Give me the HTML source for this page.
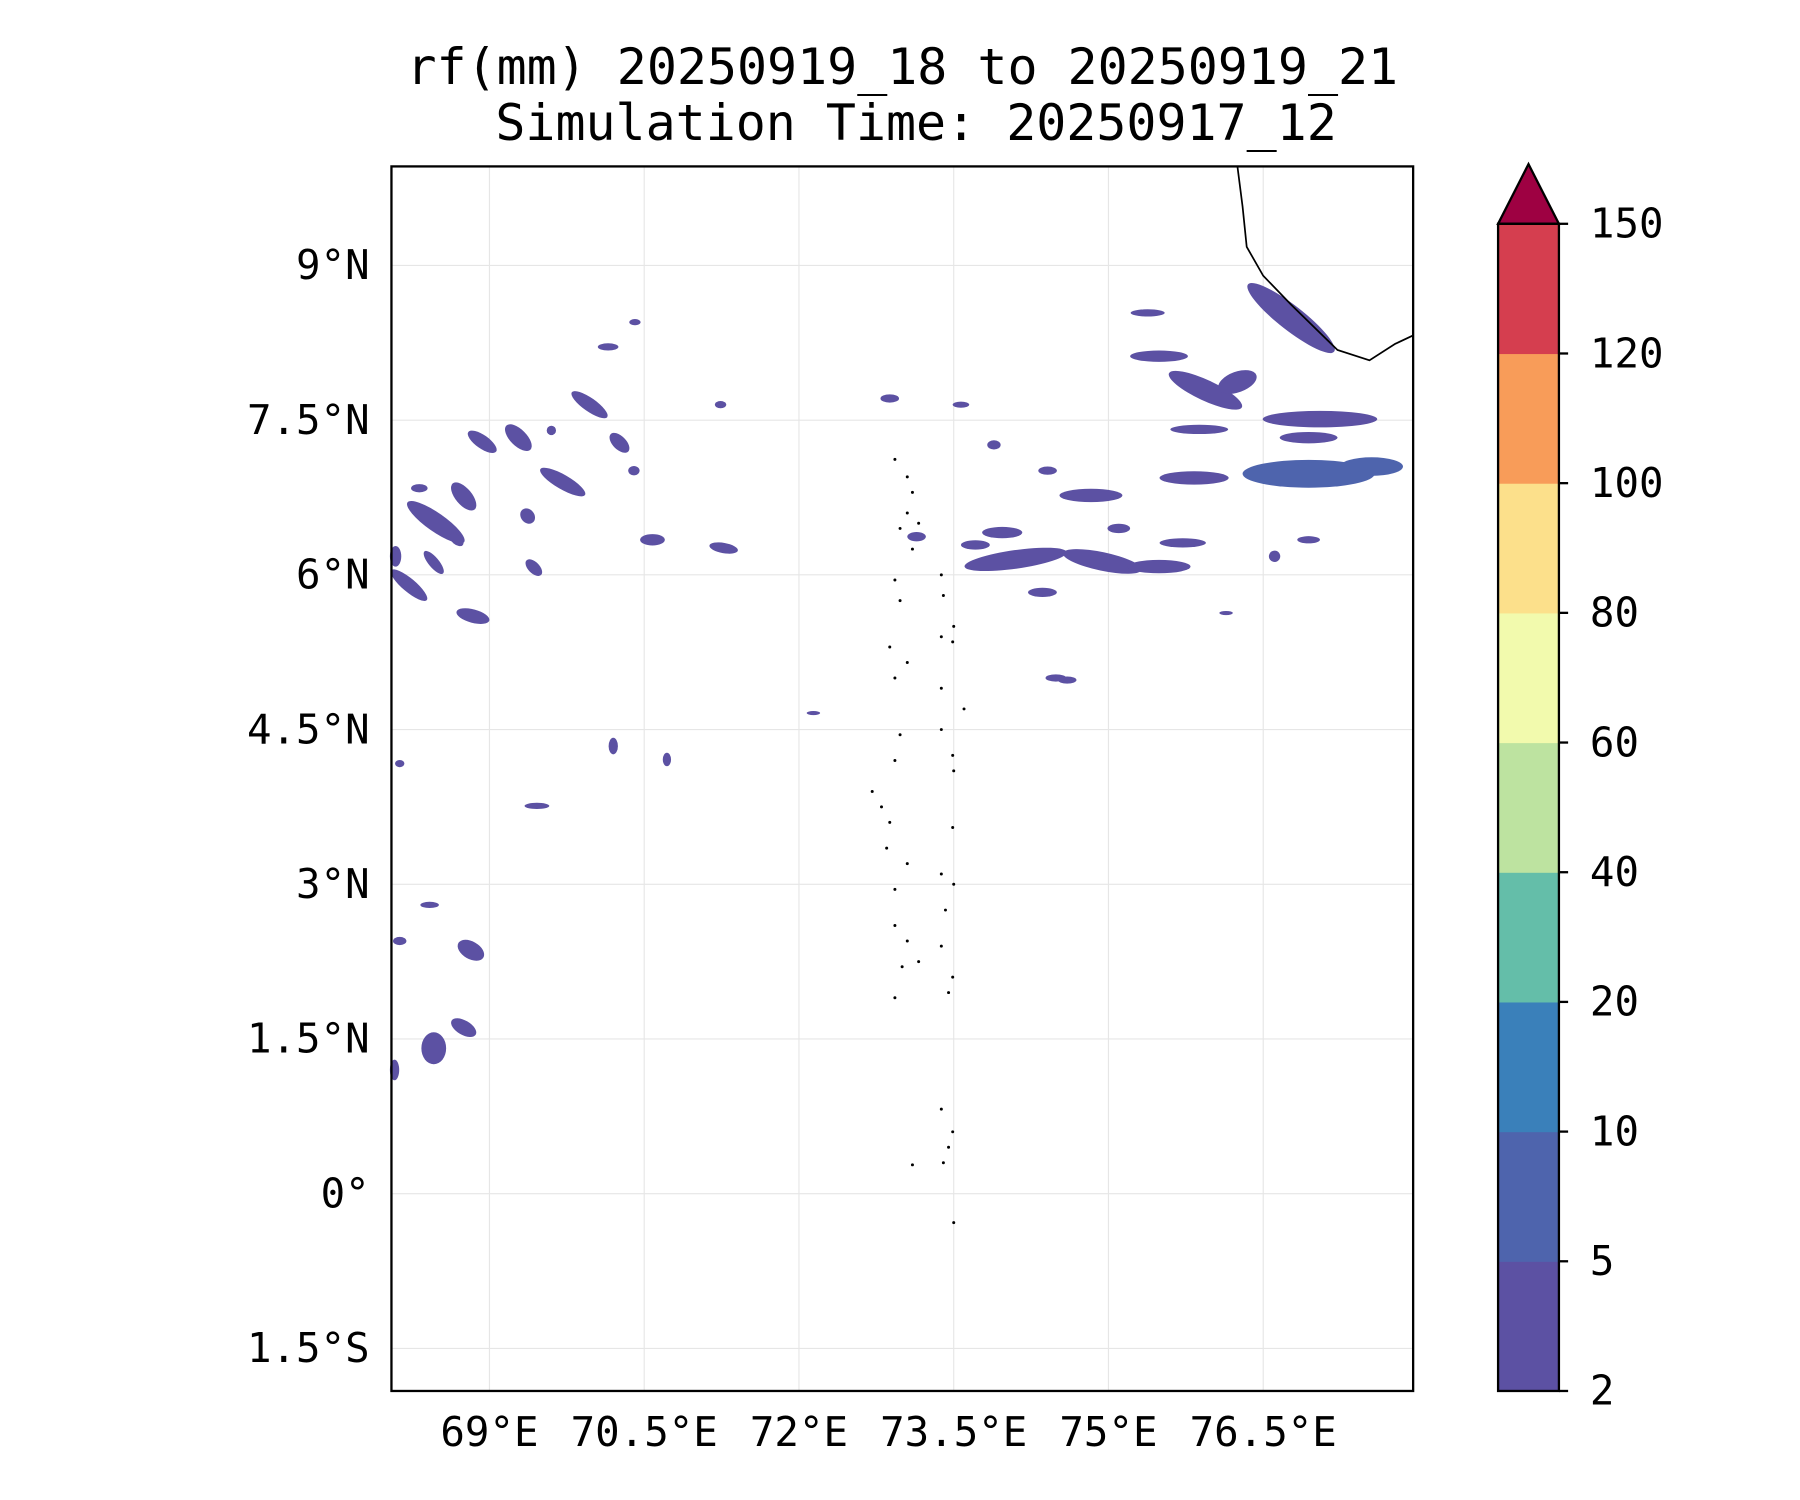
<!DOCTYPE html>
<html><head><meta charset="utf-8"><style>
html,body{margin:0;padding:0;background:#fff}
svg{display:block}
text{font-family:"DejaVu Sans Mono","Liberation Mono",monospace;fill:#000}
</style></head><body>
<svg id="chart" width="1800" height="1500" viewBox="0 0 1568 1307" preserveAspectRatio="none" xmlns="http://www.w3.org/2000/svg">
<text x="786" y="73" font-size="43.5" text-anchor="middle">rf(mm) 20250919_18 to 20250919_21</text>
<text x="798" y="122" font-size="43.5" text-anchor="middle">Simulation Time: 20250917_12</text>
<g id="grid"></g>
<g id="rain"></g>
<g id="coast"></g>
<rect x="341" y="145" width="890" height="1067" fill="none" stroke="#000" stroke-width="2"/>
<g id="xt"></g>
<g id="yt"></g>
<g id="cbar"></g>
</svg>
<script>
const xTicks=[69,70.5,72,73.5,75,76.5];
const xTickLabels=["69°E","70.5°E","72°E","73.5°E","75°E","76.5°E"];
const yTicks=[9,7.5,6,4.5,3,1.5,0,-1.5];
const yTickLabels=["9°N","7.5°N","6°N","4.5°N","3°N","1.5°N","0°","1.5°S"];
const levels=[2,5,10,20,40,60,80,100,120,150];
const levelColors=["#5c51a3","#4e64ad","#3a80ba","#64bea9","#bde3a0","#f2faad","#fce08b","#f89c59","#d53e4f"];
const extendColor="#9e0142";
const blobLon=[76.77,75.38,75.49,75.94,76.25,77.05,76.94,75.88,76.94,77.55,75.83,74.83,74.1,74.94,75.49,73.97,73.71,75.72,75.1,74.36,76.61,76.94,74.49,73.89,74.41,68.48,68.75,68.22,68.46,68.84,68.93,69.28,69.71,69.97,70.26,69.43,69.37,70.58,71.27,68.09,68.32,68.68,70.15,69.6,70.4,68.82,68.46,68.75,68.42,68.13,69.46,70.2,70.72,68.08,68.13,72.88,73.57,73.14,72.14,71.24,70.41,76.14,74.6];
const blobLat=[8.49,8.54,8.12,7.79,7.87,7.51,7.33,7.41,6.98,7.05,6.94,6.77,6.15,6.13,6.08,6.41,6.29,6.31,6.45,5.83,6.18,6.34,5.0,7.26,7.01,6.51,6.76,5.9,6.12,5.6,7.29,7.33,6.9,7.65,7.28,6.07,6.57,6.34,6.26,6.18,6.84,6.34,8.21,7.4,7.01,2.36,1.41,1.61,2.8,2.45,3.76,4.34,4.21,1.2,4.17,7.71,7.65,6.37,4.66,7.65,8.45,5.63,4.98];
const blobW=[1.06,.33,.56,.78,.39,1.11,.56,.56,1.28,.61,.67,.61,1.0,.78,.61,.39,.28,.45,.22,.28,.11,.22,.2,.13,.18,.67,.33,.45,.28,.33,.33,.33,.5,.42,.24,.2,.16,.24,.28,.11,.16,.16,.2,.09,.11,.28,.24,.27,.18,.13,.24,.09,.08,.09,.09,.18,.16,.18,.13,.11,.11,.13,.18];
const blobH=[.24,.07,.11,.2,.2,.16,.11,.09,.27,.18,.13,.13,.18,.18,.13,.11,.09,.09,.09,.09,.11,.07,.07,.09,.08,.18,.16,.13,.1,.13,.13,.16,.14,.13,.13,.11,.13,.11,.1,.2,.08,.09,.07,.09,.09,.17,.31,.14,.06,.08,.06,.16,.13,.2,.07,.08,.06,.09,.04,.07,.06,.04,.07];
const blobAng=[38,0,0,25,-20,0,0,0,0,0,0,0,-8,12,0,0,0,0,0,0,-30,0,0,0,0,35,50,40,50,15,35,45,30,35,45,45,50,0,10,0,0,40,0,0,0,30,0,30,0,0,0,0,0,0,0,0,0,0,0,0,0,0,0];
const blobBand=[0,0,0,0,0,0,0,0,1,1,0,0,0,0,0,0,0,0,0,0,0,0,0,0,0,0,0,0,0,0,0,0,0,0,0,0,0,0,0,0,0,0,0,0,0,0,0,0,0,0,0,0,0,0,0,0,0,0,0,0,0,0,0];
const coastLon=[76.25,76.3,76.34,76.5,76.77,77.22,77.53,77.78,77.95];
const coastLat=[9.96,9.57,9.18,8.9,8.62,8.18,8.08,8.24,8.32];
const islandLon=[72.93,73.05,73.1,73.05,72.98,73.16,73.1,73.38,73.4,72.93,72.98,73.38,73.49,73.5,72.88,73.05,72.93,73.38,73.6,72.98,73.38,73.49,72.93,73.5,72.71,72.8,72.88,73.49,72.85,73.05,73.38,73.5,72.93,73.42,72.93,73.05,73.38,73.49,73.45,72.93,73.0,73.16,73.38,73.49,73.45,73.4,73.1,73.5];
const islandLat=[7.12,6.95,6.8,6.6,6.45,6.5,6.25,6.0,5.8,5.95,5.75,5.4,5.35,5.5,5.3,5.15,5.0,4.9,4.7,4.45,4.5,4.25,4.2,4.1,3.9,3.75,3.6,3.55,3.35,3.2,3.1,3.0,2.95,2.75,2.6,2.45,2.4,2.1,1.95,1.9,2.2,2.25,0.82,0.6,0.45,0.3,0.28,-0.28];
const X=lon=>341+(lon-68.05)*89.87;
const Y=lat=>145+(9.96-lat)*89.87;
const NS="http://www.w3.org/2000/svg";
function mk(tag,parent){const e=document.createElementNS(NS,tag);parent.appendChild(e);return e;}
const grid=document.getElementById('grid');
xTicks.forEach(v=>{const l=mk('line',grid);


l.setAttribute('x1',X(v));l.setAttribute('x2',X(v));l.setAttribute('y1',145);l.setAttribute('y2',1212);l.setAttribute('stroke','#e6e6e6');l.setAttribute('stroke-width','1');});
yTicks.forEach(v=>{const l=mk('line',grid);


l.setAttribute('y1',Y(v));l.setAttribute('y2',Y(v));l.setAttribute('x1',341);l.setAttribute('x2',1231);l.setAttribute('stroke','#e6e6e6');l.setAttribute('stroke-width','1');});
const rain=document.getElementById('rain');
blobLon.forEach((lo,i)=>{const e=mk('ellipse',rain);


const cx=X(lo),cy=Y(blobLat[i]);
e.setAttribute('cx',cx);e.setAttribute('cy',cy);e.setAttribute('rx',blobW[i]*89.87/2);e.setAttribute('ry',blobH[i]*89.87/2);
e.setAttribute('transform',`rotate(${blobAng[i]} ${cx} ${cy})`);e.setAttribute('fill',levelColors[blobBand[i]]);});
const coast=document.getElementById('coast');
const p=mk('polyline',coast);


p.setAttribute('points',coastLon.map((lo,i)=>X(lo)+','+Y(coastLat[i])).join(' '));p.setAttribute('fill','none');p.setAttribute('stroke','#000');p.setAttribute('stroke-width','1.5');
islandLon.forEach((lo,i)=>{const c=mk('circle',coast);


c.setAttribute('cx',X(lo));c.setAttribute('cy',Y(islandLat[i]));c.setAttribute('r',1.3);c.setAttribute('fill','#000');});
const xt=document.getElementById('xt');
xTicks.forEach((v,i)=>{const t=mk('text',xt);


t.setAttribute('x',X(v));t.setAttribute('y',1260);t.setAttribute('font-size','35.5');t.setAttribute('text-anchor','middle');t.textContent=xTickLabels[i];});
const yt=document.getElementById('yt');
yTicks.forEach((v,i)=>{const t=mk('text',yt);


t.setAttribute('x',322);t.setAttribute('y',Y(v)+12);t.setAttribute('font-size','35.5');t.setAttribute('text-anchor','end');t.textContent=yTickLabels[i];});
const cb=document.getElementById('cbar');
const cbTop=195,cbBot=1212,cbL=1305,cbR=1358,n=levels.length-1,bh=(cbBot-cbTop)/n;
levelColors.forEach((c,i)=>{const r=mk('rect',cb);


r.setAttribute('x',cbL);r.setAttribute('y',cbBot-(i+1)*bh);r.setAttribute('width',cbR-cbL);r.setAttribute('height',bh+0.5);r.setAttribute('fill',c);});
const tri=mk('polygon',cb);


tri.setAttribute('points',`${cbL},${cbTop} ${(cbL+cbR)/2},143 ${cbR},${cbTop}`);tri.setAttribute('fill',extendColor);tri.setAttribute('stroke','#000');tri.setAttribute('stroke-width','2');
const ol=mk('rect',cb);


ol.setAttribute('x',cbL);ol.setAttribute('y',cbTop);ol.setAttribute('width',cbR-cbL);ol.setAttribute('height',cbBot-cbTop);ol.setAttribute('fill','none');ol.setAttribute('stroke','#000');ol.setAttribute('stroke-width','2');
levels.forEach((v,i)=>{const y=cbBot-i*bh;
const tk=mk('line',cb);


tk.setAttribute('x1',cbR);tk.setAttribute('x2',cbR+8);tk.setAttribute('y1',y);tk.setAttribute('y2',y);tk.setAttribute('stroke','#000');tk.setAttribute('stroke-width','2');
const t=mk('text',cb);


t.setAttribute('x',1385);t.setAttribute('y',y+12);t.setAttribute('font-size','35.5');t.textContent=v;});
</script>
</body></html>
